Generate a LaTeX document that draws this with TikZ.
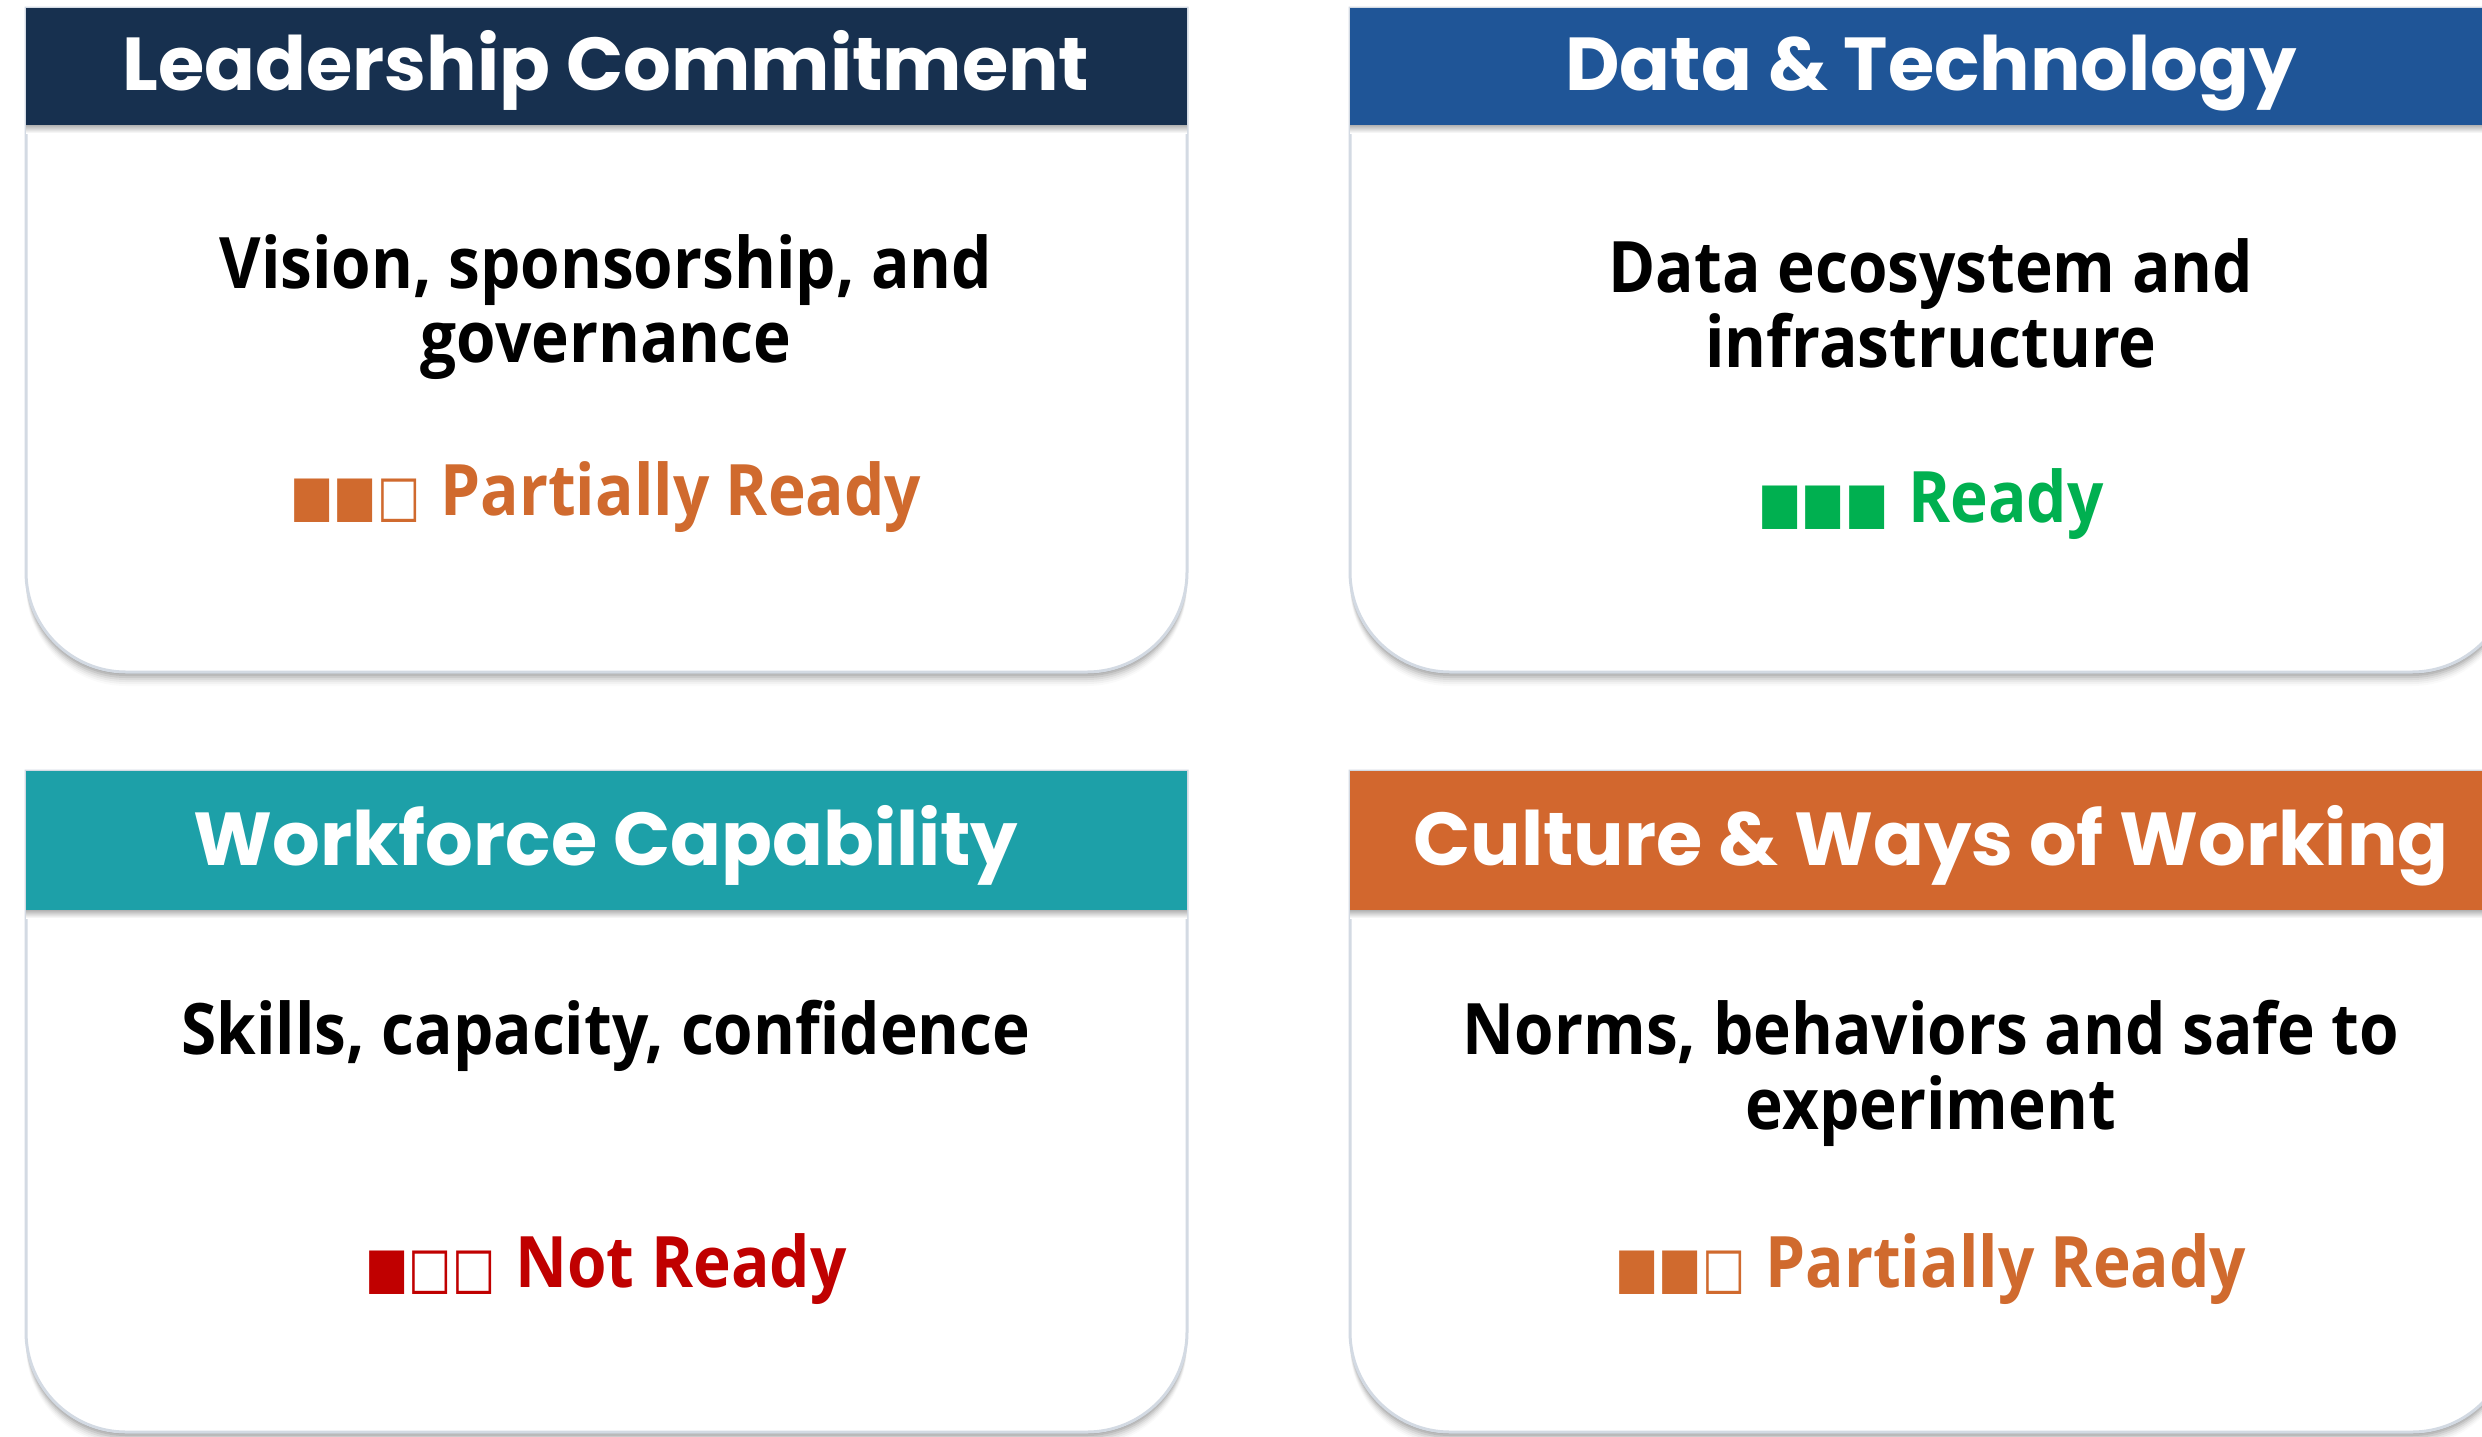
\documentclass[tikz,border=0pt]{standalone}
\usepackage{fontspec}
\usepackage{graphicx}
\setmainfont{Open Sans}
\newfontfamily\bodyfont{Open Sans}[FakeStretch=0.9]
\newfontfamily\hdrfont{Poppins}
\newfontfamily\symfont{DejaVu Sans}
\definecolor{navyhdr}{HTML}{17304F}
\definecolor{bluehdr}{HTML}{1F5597}
\definecolor{tealhdr}{HTML}{1DA0A8}
\definecolor{orangehdr}{HTML}{D2672E}
\definecolor{partcol}{HTML}{D06A2E}
\definecolor{readycol}{HTML}{00B050}
\definecolor{notcol}{HTML}{C00000}
\definecolor{cardborder}{HTML}{D3DAE3}
\newcommand\cardshape[4]{(#1,#2) -- (#3,#2) -- (#3,{#4-100}) .. controls (#3,{#4-45}) and ({#3-45},#4) .. ({#3-100},#4) -- ({#1+100},#4) .. controls ({#1+45},#4) and (#1,{#4-45}) .. (#1,{#4-100}) -- cycle}
\newcommand\drawcard[6]{%
  \foreach \d/\o in {2/0.10,4/0.08,6/0.07,8/0.05,10/0.04,12/0.03,14/0.02}{
    \fill[black,opacity=\o,shift={(0,\d)}] \cardshape{#1}{#2}{#3}{#4};
  }
  \fill[white] \cardshape{#1}{#2}{#3}{#4};
  \draw[cardborder,line width=1.5pt] \cardshape{#1}{#2}{#3}{#4};
  \shade[top color=black!30,bottom color=white] (#1,#5) rectangle (#3,{#5+8});
  \fill[#6] (#1,#2) rectangle (#3,#5);
}
\newcommand\sqmarks[1]{{\symfont\scalebox{0.645}[0.8]{#1}}\hspace{10pt}}
\tikzset{
  hdrtext/.style={font=\hdrfont\bfseries\fontsize{37.5}{44}\selectfont,text=white,anchor=base,inner sep=0pt},
  bodytext/.style={font=\bodyfont\bfseries\fontsize{35.5}{40}\selectfont,text=black,anchor=base,inner sep=0pt},
  statustext/.style={font=\bodyfont\bfseries\fontsize{35.5}{40}\selectfont,anchor=base,inner sep=0pt}
}
\begin{document}
\begin{tikzpicture}[x=0.5pt,y=-0.5pt]
\useasboundingbox (0,0) rectangle (2482,1436);
\clip (0,0) rectangle (2482,1436);
\fill[white] (0,0) rectangle (2482,1436);
% cards
\drawcard{26}{8}{1187}{672}{125}{navyhdr}
\drawcard{1350}{8}{2512}{672}{125}{bluehdr}
\drawcard{26}{771}{1187}{1432}{910}{tealhdr}
\drawcard{1350}{771}{2512}{1432}{910}{orangehdr}
% headers
\node[hdrtext] (h1) at (606,90) {Leadership Commitment};
\node[hdrtext] (h2) at (1931,90) {Data \& Technology};
\node[hdrtext] (h3) at (606,865) {Workforce Capability};
\node[hdrtext] (h4) at (1931,865) {Culture \& Ways of Working};
% body
\node[bodytext] (b1a) at (606,288) {Vision, sponsorship, and};
\node[bodytext] (b1b) at (606,362) {governance};
\node[bodytext] (b2a) at (1931,292) {Data ecosystem and};
\node[bodytext] (b2b) at (1931,367) {infrastructure};
\node[bodytext] (b3a) at (606,1054) {Skills, capacity, confidence};
\node[bodytext] (b4a) at (1931,1054) {Norms, behaviors and safe to};
\node[bodytext] (b4b) at (1931,1129) {experiment};
% status
\node[statustext,text=partcol] (s1) at (606,515) {\sqmarks{■■□}Partially Ready};
\node[statustext,text=readycol] (s2) at (1931,522) {\sqmarks{■■■}Ready};
\node[statustext,text=notcol] (s3) at (606,1287) {\sqmarks{■□□}Not Ready};
\node[statustext,text=partcol] (s4) at (1931,1287) {\sqmarks{■■□}Partially Ready};
\end{tikzpicture}
\end{document}
